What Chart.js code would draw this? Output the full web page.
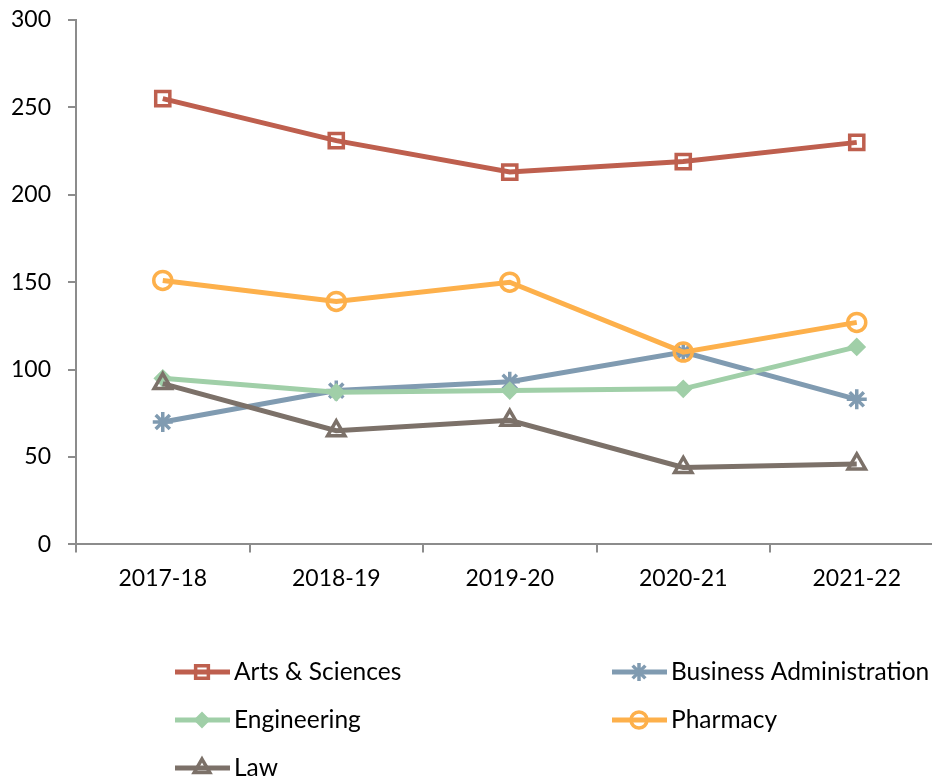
<!DOCTYPE html>
<html lang="en">
<head>
<meta charset="UTF-8">
<title>enrollment</title>
<script src="https://cdn.jsdelivr.net/npm/chart.js"></script>
<style>
  html, body { margin: 0; padding: 0; background: #fff; overflow: hidden; }
  #wrap { width: 957px; height: 782px; position: relative; }
</style>
</head>
<body>
<div id="wrap"><canvas id="mycanvas"></canvas></div>
<script>
// data
var years = ['2017-18', '2018-19', '2019-20', '2020-21', '2021-22'];
var artsSciences = [255, 231, 213, 219, 230];
var businessAdmin = [70, 88, 93, 110, 83];
var engineering = [95, 87, 88, 89, 113];
var pharmacy = [151, 139, 150, 110, 127];
var law = [92, 65, 71, 44, 46];
var yTicks = [0, 50, 100, 150, 200, 250, 300];

var FONT = 'Lato, "Open Sans", sans-serif';

function serie(label, data, color, style, radius, bw, fill) {
    return {
        label: label,
        data: data,
        borderColor: color,
        backgroundColor: color,
        borderWidth: 5,
        pointStyle: style,
        pointRadius: radius,
        pointBorderWidth: bw,
        pointBackgroundColor: fill,
        pointBorderColor: color,
        tension: 0
    };
}

var none = 'rgba(0,0,0,0)';
var datasets = [
    serie('Arts & Sciences', artsSciences, '#BE5F4E', 'rect', 10, 3.5, none),
    serie('Business Administration', businessAdmin, '#809BB1', 'star', 10, 3.5, none),
    serie('Engineering', engineering, '#A0CFA8', 'rectRot', 8, 2, '#A0CFA8'),
    serie('Pharmacy', pharmacy, '#FDB04B', 'circle', 9, 3.5, none),
    serie('Law', law, '#7C7169', 'triangle', 10, 3.5, none)
];
// Excel paints the first series at the bottom
datasets.forEach(function (d, i) { d.order = datasets.length - i; });

// two column legend under the chart
var legendPlugin = {
    id: 'twoColLegend',
    afterDraw: function (chart) {
        var ctx = chart.ctx;
        var cols = [175, 612];
        var rows = [672, 720, 768];
        ctx.save();
        chart.data.datasets.forEach(function (ds, i) {
            var x = cols[i % 2];
            var y = rows[Math.floor(i / 2)];
            ctx.strokeStyle = ds.borderColor;
            ctx.lineWidth = 5;
            ctx.beginPath();
            ctx.moveTo(x, y);
            ctx.lineTo(x + 55, y);
            ctx.stroke();
            ctx.lineWidth = ds.pointBorderWidth;
            ctx.strokeStyle = ds.pointBorderColor;
            ctx.fillStyle = ds.pointBackgroundColor;
            Chart.helpers.drawPoint(ctx, {pointStyle: ds.pointStyle, rotation: 0, borderWidth: ds.pointBorderWidth, radius: ds.pointRadius - 1},
                x + 27, y);
            ctx.fillStyle = '#000';
            ctx.font = '24.5px ' + FONT;
            ctx.textAlign = 'left';
            ctx.textBaseline = 'middle';
            ctx.fillText(ds.label, x + 59, y);
        });
        ctx.restore();
    }
};

var ctx = document.getElementById('mycanvas');
var chart = new Chart(ctx, {
    type: 'line',
    data: { labels: years, datasets: datasets },
    plugins: [legendPlugin],
    options: {
        responsive: true,
        maintainAspectRatio: false,
        animation: false,
        layout: { padding: { left: -6, top: 20, right: 1, bottom: 178 } },
        plugins: {
            legend: { display: false },
            tooltip: { enabled: false }
        },
        scales: {
            x: {
                offset: true,
                grid: {
                    offset: true,
                    drawOnChartArea: false,
                    color: '#8C8C8C',
                    lineWidth: 2,
                    tickLength: 8
                },
                border: { color: '#8C8C8C', width: 2 },
                ticks: { color: '#000', font: { family: FONT, size: 23 }, padding: 12, maxRotation: 0 }
            },
            y: {
                min: 0,
                max: 300,
                afterBuildTicks: function (axis) {
                    axis.ticks = yTicks.map(function (v) { return { value: v }; });
                },
                afterFit: function (axis) {
                    // keep the top label from pushing the plot down
                    axis.paddingTop = 0;
                },
                grid: {
                    drawOnChartArea: false,
                    color: '#8C8C8C',
                    lineWidth: 2,
                    tickLength: 8
                },
                border: { color: '#8C8C8C', width: 2 },
                ticks: { color: '#000', font: { family: FONT, size: 23 }, padding: 17 }
            }
        }
    }
});
</script>
</body>
</html>
